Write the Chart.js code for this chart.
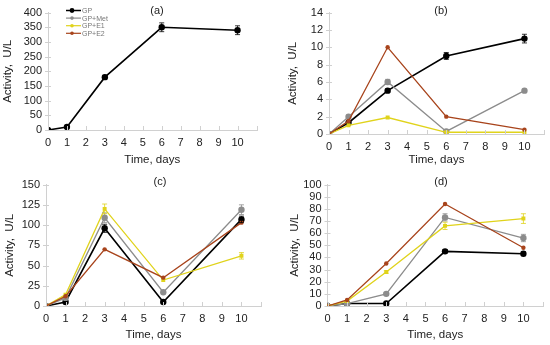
<!DOCTYPE html>
<html>
<head>
<meta charset="utf-8">
<script src="https://cdn.jsdelivr.net/npm/chart.js@4.4.1/dist/chart.umd.min.js"></script>
<style>
  html, body { margin: 0; padding: 0; background: #fff; }
  .panel { position: absolute; }
</style>
</head>
<body>
<div class="panel" style="left:0;top:0;width:275px;height:172px"><canvas id="ca" width="275" height="172"></canvas></div>
<div class="panel" style="left:275px;top:0;width:275px;height:172px"><canvas id="cb" width="275" height="172"></canvas></div>
<div class="panel" style="left:0;top:172px;width:275px;height:173px"><canvas id="cc" width="275" height="173"></canvas></div>
<div class="panel" style="left:275px;top:172px;width:275px;height:173px"><canvas id="cd" width="275" height="173"></canvas></div>
<script>
// ---------- data ----------
const days = [0, 1, 3, 6, 10];
const xTickLabels = ['0','1','2','3','4','5','6','7','8','9','10',''];
const seriesNames = ['GP', 'GP+Met', 'GP+E1', 'GP+E2'];

// panel (a)
const aGP      = [0, 10, 180, 350, 340];
const aGPErr   = [0, 3, 6, 15, 15];

// panel (b)
const bGP      = [0, 1.3, 5, 9, 11];
const bGPErr   = [0, 0.1, 0.2, 0.4, 0.5];
const bMet     = [0, 2, 6, 0.3, 5];
const bMetErr  = [0, 0.1, 0.3, 0.1, 0.1];
const bE1      = [0, 1, 1.9, 0.2, 0.2];
const bE1Err   = [0, 0.1, 0.1, 0.05, 0.05];
const bE2      = [0, 1.5, 10, 2, 0.5];
const bE2Err   = [0, 0.1, 0.1, 0.1, 0.1];

// panel (c)
const cGP      = [0, 5, 96, 5, 107];
const cGPErr   = [0, 1, 5, 1, 4];
const cMet     = [0, 10, 109, 17, 119];
const cMetErr  = [0, 1, 6, 1, 6];
const cE1      = [0, 14, 120, 32, 62];
const cE1Err   = [0, 1, 6, 1, 4];
const cE2      = [0, 12, 70, 35, 103];
const cE2Err   = [0, 1, 1, 1, 1];

// panel (d)
const dGP      = [0, 2, 2, 45, 43];
const dGPErr   = [0, 0.5, 0.5, 1.5, 1.5];
const dMet     = [0, 2, 10, 73, 56];
const dMetErr  = [0, 0.5, 1, 3, 3];
const dE1      = [0, 4, 28, 66, 72];
const dE1Err   = [0, 0.5, 1, 3, 4];
const dE2      = [0, 5, 35, 84, 48];
const dE2Err   = [0, 0.5, 0.5, 0.5, 0.5];

// ---------- styles ----------
const FONT = "'Liberation Sans', Arial, sans-serif";
const styles = [
  { color: '#000000', radius: 3.2, style: 'circle', width: 1.6 },
  { color: '#8c8c8c', radius: 3.2, style: 'circle', width: 1.3 },
  { color: '#e0d31c', radius: 2.8, style: 'rect',   width: 1.3 },
  { color: '#a8441c', radius: 2.2, style: 'circle', width: 1.3 }
];

function pts(vals) { return days.map((d, i) => ({ x: d, y: vals[i] })); }

function makeDatasets(list) {
  return seriesNames.map((name, i) => {
    const item = list[i];
    const st = styles[i];
    return {
      label: name,
      data: item ? pts(item[0]) : [],
      errors: item ? item[1] : [],
      borderColor: st.color,
      backgroundColor: st.color,
      pointBackgroundColor: st.color,
      pointBorderColor: st.color,
      pointRadius: st.radius,
      pointStyle: st.style,
      borderWidth: st.width,
      pointBorderWidth: 0,
      showLine: true,
      tension: 0,
      order: 3 - i
    };
  });
}

// error bar plugin
const errorBars = {
  id: 'errorBars',
  afterDatasetsDraw(chart) {
    const ctx = chart.ctx;
    const ys = chart.scales.y, xs = chart.scales.x;
    chart.data.datasets.forEach((ds) => {
      if (!ds.errors) return;
      ds.data.forEach((p, i) => {
        const e = ds.errors[i];
        if (!e) return;
        const x = xs.getPixelForValue(p.x);
        const y1 = ys.getPixelForValue(p.y + e);
        const y2 = ys.getPixelForValue(Math.max(p.y - e, 0));
        if (Math.abs(y2 - y1) < 2) return;
        ctx.save();
        ctx.strokeStyle = ds.borderColor;
        ctx.globalAlpha = 0.8;
        ctx.lineWidth = 1;
        ctx.beginPath();
        ctx.moveTo(x, y1); ctx.lineTo(x, y2);
        ctx.moveTo(x - 2.5, y1); ctx.lineTo(x + 2.5, y1);
        ctx.moveTo(x - 2.5, y2); ctx.lineTo(x + 2.5, y2);
        ctx.stroke();
        ctx.restore();
      });
    });
  }
};

// tick marks crossing the axes
const tickMarks = {
  id: 'tickMarks',
  afterDraw(chart) {
    const ctx = chart.ctx;
    const xs = chart.scales.x, ys = chart.scales.y;
    const area = chart.chartArea;
    ctx.save();
    ctx.strokeStyle = '#d0d0d0';
    ctx.lineWidth = 1;
    ctx.beginPath();
    xs.ticks.forEach(t => {
      const x = Math.round(xs.getPixelForValue(t.value)) + 0.5;
      ctx.moveTo(x, area.bottom - 4); ctx.lineTo(x, area.bottom + 1);
    });
    ys.ticks.forEach(t => {
      const y = Math.round(ys.getPixelForValue(t.value)) + 0.5;
      ctx.moveTo(area.left - 3, y); ctx.lineTo(area.left + 3, y);
    });
    ctx.stroke();
    ctx.restore();
  }
};

// panel letter + mini legend
const annotations = {
  id: 'annotations',
  afterDraw(chart, args, opts) {
    const ctx = chart.ctx;
    ctx.save();
    ctx.fillStyle = '#222';
    ctx.font = '11px ' + FONT;
    ctx.textAlign = 'center';
    ctx.textBaseline = 'middle';
    ctx.fillText(opts.letter, opts.lx, opts.ly);
    if (opts.legend) {
      const lg = opts.legend;
      chart.data.datasets.forEach((ds, i) => {
        const y = lg.y + i * 7.6;
        ctx.strokeStyle = ds.borderColor;
        ctx.fillStyle = ds.borderColor;
        ctx.lineWidth = i === 0 ? 1.5 : 1.2;
        ctx.beginPath();
        ctx.moveTo(lg.x, y); ctx.lineTo(lg.x + 15, y);
        ctx.stroke();
        ctx.beginPath();
        ctx.arc(lg.x + 6, y, i === 0 ? 2.4 : 1.8, 0, Math.PI * 2);
        ctx.fill();
        ctx.fillStyle = '#777';
        ctx.font = '7px ' + FONT;
        ctx.textAlign = 'left';
        ctx.fillText(ds.label, lg.x + 16, y + 0.5);
      });
    }
    ctx.restore();
  }
};

function makeChart(id, geom, yMax, yStep, datasets, letter, legend) {
  const W = geom.W, H = geom.H;
  return new Chart(document.getElementById(id), {
    type: 'scatter',
    data: { datasets },
    options: {
      responsive: false,
      animation: false,
      layout: { padding: { left: 0, right: W - geom.right, top: geom.top, bottom: 0 } },
      plugins: {
        legend: { display: false },
        tooltip: { enabled: false },
        annotations: { letter, lx: geom.lx, ly: geom.ly, legend }
      },
      scales: {
        x: {
          type: 'linear', min: 0, max: 11,
          afterFit(s) { s.height = H - geom.bottom; },
          grid: { display: false, drawTicks: false },
          border: { display: true, color: '#d0d0d0', width: 1 },
          ticks: {
            stepSize: 1, padding: 6, color: '#222', maxRotation: 0, autoSkip: false,
            font: { family: FONT, size: 11 },
            callback: (v) => xTickLabels[v] !== undefined ? xTickLabels[v] : ''
          },
          title: {
            display: true, text: 'Time, days', color: '#222',
            font: { family: FONT, size: 11.5 },
            padding: { top: 0, bottom: geom.xtPad }
          }
        },
        y: {
          min: 0, max: yMax,
          afterFit(s) { s.width = geom.left; },
          grid: { display: false, drawTicks: false },
          border: { display: true, color: '#d0d0d0', width: 1 },
          ticks: {
            stepSize: yStep, padding: 6, color: '#222', autoSkip: false,
            font: { family: FONT, size: 11 }
          },
          title: {
            display: true, text: 'Activity,  U/L', color: '#222',
            font: { family: FONT, size: 11.5 },
            padding: { top: geom.ytPad, bottom: 0 }
          }
        }
      }
    },
    plugins: [errorBars, tickMarks, annotations]
  });
}

makeChart('ca', { W: 275, H: 172, left: 48, right: 256.5, top: 8, bottom: 130, lx: 157, ly: 11, xtPad: 5, ytPad: 1 },
  400, 50,
  makeDatasets([[aGP, aGPErr], null, null, null]), '(a)', { x: 66, y: 10.5 });

makeChart('cb', { W: 275, H: 172, left: 54, right: 271, top: 8, bottom: 134, lx: 166, ly: 11, xtPad: 5, ytPad: 11 },
  14, 2,
  makeDatasets([[bGP, bGPErr], [bMet, bMetErr], [bE1, bE1Err], [bE2, bE2Err]]), '(b)', null);

makeChart('cc', { W: 275, H: 173, left: 46, right: 261, top: 8, bottom: 134, lx: 160, ly: 10, xtPad: 3, ytPad: 3 },
  150, 25,
  makeDatasets([[cGP, cGPErr], [cMet, cMetErr], [cE1, cE1Err], [cE2, cE2Err]]), '(c)', null);

makeChart('cd', { W: 275, H: 173, left: 52.5, right: 268, top: 8, bottom: 134, lx: 166, ly: 10, xtPad: 3, ytPad: 13 },
  100, 10,
  makeDatasets([[dGP, dGPErr], [dMet, dMetErr], [dE1, dE1Err], [dE2, dE2Err]]), '(d)', null);
</script>
</body>
</html>
